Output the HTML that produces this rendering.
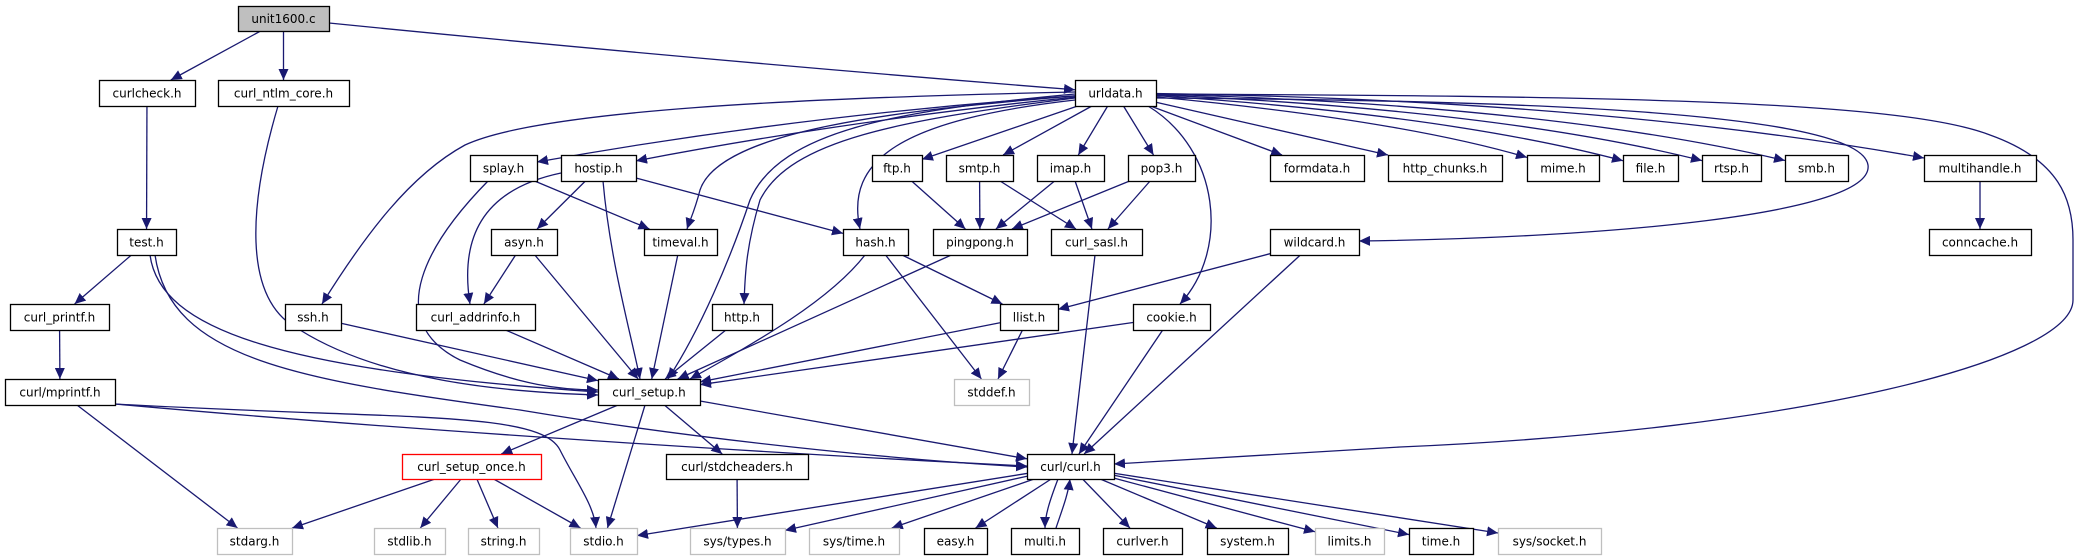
<!DOCTYPE html>
<html><head><meta charset="utf-8"><style>
html,body{margin:0;padding:0;background:#fff;}
svg{display:block;}
text{font-family:"DejaVu Sans","Liberation Sans",sans-serif;font-size:12px;fill:#000;}
</style></head><body>
<svg id="g" width="2080" height="560" viewBox="0 0 2080 560" xmlns="http://www.w3.org/2000/svg">
<defs><marker id="a" markerWidth="12" markerHeight="10" refX="11" refY="5" orient="auto" markerUnits="userSpaceOnUse"><path d="M0,0 L11,5 L0,10 Z" fill="#191970"/></marker></defs>
<g id="edges" fill="none" stroke="#191970" stroke-width="1.3"></g>
<g id="nodes"></g>
</svg>
<script>
var N={
'unit1600.c':[238,6,329,31,'s'],
'curlcheck.h':[99,80,195,106],
'curl_ntlm_core.h':[218,80,349,106],
'urldata.h':[1075,80,1156,106],
'splay.h':[470,155,537,181],
'hostip.h':[561,155,636,181],
'ftp.h':[872,155,922,181],
'smtp.h':[946,155,1013,181],
'imap.h':[1037,155,1104,181],
'pop3.h':[1128,155,1195,181],
'formdata.h':[1270,155,1364,181],
'http_chunks.h':[1388,155,1502,181],
'mime.h':[1527,155,1599,181],
'file.h':[1623,155,1678,181],
'rtsp.h':[1702,155,1761,181],
'smb.h':[1785,155,1848,181],
'multihandle.h':[1924,155,2036,181],
'test.h':[117,229,176,255],
'asyn.h':[491,229,557,255],
'timeval.h':[644,229,717,255],
'hash.h':[843,229,908,255],
'pingpong.h':[933,229,1027,255],
'curl_sasl.h':[1051,229,1142,255],
'wildcard.h':[1270,229,1359,255],
'conncache.h':[1929,229,2031,255],
'curl_printf.h':[10,304,109,330],
'ssh.h':[285,304,341,330],
'curl_addrinfo.h':[416,304,535,330],
'http.h':[712,304,772,330],
'llist.h':[1000,304,1058,330],
'cookie.h':[1133,304,1210,330],
'curl/mprintf.h':[5,379,115,405],
'curl_setup.h':[598,379,700,405],
'stddef.h':[954,379,1029,405,'g'],
'curl_setup_once.h':[402,454,541,479,'r'],
'curl/stdcheaders.h':[666,454,808,479],
'curl/curl.h':[1027,454,1114,479],
'stdarg.h':[217,528,292,554,'g'],
'stdlib.h':[374,528,445,554,'g'],
'string.h':[468,528,539,554,'g'],
'stdio.h':[570,528,637,554,'g'],
'sys/types.h':[690,528,785,554,'g'],
'sys/time.h':[809,528,899,554,'g'],
'easy.h':[924,528,987,554],
'multi.h':[1011,528,1079,554],
'curlver.h':[1103,528,1182,554],
'system.h':[1207,528,1288,554],
'limits.h':[1315,528,1384,554,'g'],
'time.h':[1409,528,1473,554],
'sys/socket.h':[1498,528,1601,554,'g']
};
function C(n){var b=N[n];return [(b[0]+b[2])/2,(b[1]+b[3])/2];}
function clip(n,p){var b=N[n],c=C(n),dx=p[0]-c[0],dy=p[1]-c[1];var hw=(b[2]-b[0])/2,hh=(b[3]-b[1])/2;var t=Math.min(dx?hw/Math.abs(dx):1e9,dy?hh/Math.abs(dy):1e9);return [c[0]+dx*t,c[1]+dy*t];}
var E=document.getElementById('edges'),s='';
function e(a,b,c){c=c||[];var f=c.length?c[0]:C(b),l=c.length?c[c.length-1]:C(a);var p=clip(a,f),q=clip(b,l);var d='M'+p[0]+','+p[1];
if(c.length==1)d+=' Q'+c[0][0]+','+c[0][1]+' '+q[0]+','+q[1];else if(c.length==2)d+=' C'+c[0]+' '+c[1]+' '+q;else d+=' L'+q;
s+='<path d="'+d+'" marker-end="url(#a)"/>';}
function raw(d){s+='<path d="'+d+'" marker-end="url(#a)"/>';}
e('unit1600.c','curlcheck.h');e('unit1600.c','curl_ntlm_core.h');e('unit1600.c','urldata.h',[[700,60]]);
e('curlcheck.h','test.h');
raw('M278,106 C250,200 240,300 300,330 C380,380 500,392 598,395');
e('test.h','curl_printf.h');
raw('M150,255 C160,330 280,370 598,392');
raw('M155,255 C170,360 300,380 520,410 C700,440 900,460 1027,467');
e('curl_printf.h','curl/mprintf.h');
e('curl/mprintf.h','stdarg.h');
raw('M115,404 C400,430 800,455 1027,466');
raw('M115,404 C400,420 540,410 560,450 C575,480 594,505 596,528');
e('urldata.h','splay.h',[[800,115]]);e('urldata.h','hostip.h',[[850,120]]);
raw('M1075,92 C800,98 540,110 465,145 C410,175 365,235 322,304');
raw('M1075,94 C900,110 780,130 750,200 C730,260 700,330 668,379');
raw('M1075,96 C900,110 720,130 700,190 C695,210 690,220 687,229');
raw('M1075,98 C900,120 790,140 760,200 C745,250 745,280 744,304');
raw('M1075,100 C900,120 845,160 860,229');
e('urldata.h','ftp.h');e('urldata.h','smtp.h');e('urldata.h','imap.h');e('urldata.h','pop3.h');
e('urldata.h','formdata.h');e('urldata.h','http_chunks.h');
e('urldata.h','mime.h',[[1400,120]]);e('urldata.h','file.h',[[1450,115]]);e('urldata.h','rtsp.h',[[1500,110]]);e('urldata.h','smb.h',[[1550,105]]);e('urldata.h','multihandle.h',[[1600,100]]);
raw('M1148,106 C1220,150 1230,250 1180,304');
raw('M1156,98 C1500,100 1860,110 1868,165 C1875,215 1600,238 1359,241');
raw('M1156,94 C1600,96 1900,100 1990,135 C2060,160 2073,200 2073,240 L2073,300 C2073,360 1800,430 1400,447 L1114,464');
e('multihandle.h','conncache.h');
raw('M488,181 C430,240 380,320 460,360 C520,385 560,390 598,390');
e('splay.h','timeval.h');
e('hostip.h','asyn.h');e('hostip.h','hash.h');
raw('M603,181 C610,260 630,330 640,379');
raw('M561,173 C480,190 460,240 470,304');
e('asyn.h','curl_addrinfo.h');e('asyn.h','curl_setup.h');
e('timeval.h','curl_setup.h');e('ssh.h','curl_setup.h');e('curl_addrinfo.h','curl_setup.h');e('http.h','curl_setup.h');
e('ftp.h','pingpong.h');e('smtp.h','pingpong.h');e('smtp.h','curl_sasl.h');e('imap.h','pingpong.h');e('imap.h','curl_sasl.h');e('pop3.h','pingpong.h');e('pop3.h','curl_sasl.h');
e('hash.h','llist.h');e('hash.h','stddef.h');
raw('M865,255 C830,300 760,340 690,379');
e('pingpong.h','curl_setup.h');e('curl_sasl.h','curl/curl.h');
e('wildcard.h','llist.h');e('wildcard.h','curl/curl.h');
e('llist.h','curl_setup.h');e('llist.h','stddef.h');
e('cookie.h','curl_setup.h');e('cookie.h','curl/curl.h');
e('curl_setup.h','curl_setup_once.h');e('curl_setup.h','curl/stdcheaders.h');e('curl_setup.h','curl/curl.h');e('curl_setup.h','stdio.h');
e('curl_setup_once.h','stdarg.h');e('curl_setup_once.h','stdlib.h');e('curl_setup_once.h','string.h');e('curl_setup_once.h','stdio.h');
e('curl/stdcheaders.h','sys/types.h');
e('curl/curl.h','stdio.h');e('curl/curl.h','sys/types.h');e('curl/curl.h','sys/time.h');e('curl/curl.h','easy.h');
raw('M1058,479 C1050,500 1045,515 1045,528');
raw('M1056,528 C1062,510 1068,495 1070,479');
e('curl/curl.h','curlver.h');e('curl/curl.h','system.h');e('curl/curl.h','limits.h');e('curl/curl.h','time.h');e('curl/curl.h','sys/socket.h');
E.innerHTML=s;
var t='';
for(var k in N){var b=N[k],st=b[4]=='g'?'#bfbfbf':(b[4]=='r'?'#ff0000':'#000'),fl=b[4]=='s'?'#bfbfbf':'#fff';
t+='<rect x="'+(b[0]+0.5)+'" y="'+(b[1]+0.5)+'" width="'+(b[2]-b[0])+'" height="'+(b[3]-b[1])+'" fill="'+fl+'" stroke="'+st+'" stroke-width="1.3"/>';
t+='<text x="'+(b[0]+b[2])/2+'" y="'+((b[1]+b[3])/2+4.5)+'" text-anchor="middle">'+k+'</text>';}
document.getElementById('nodes').innerHTML=t;
</script>
</body></html>
